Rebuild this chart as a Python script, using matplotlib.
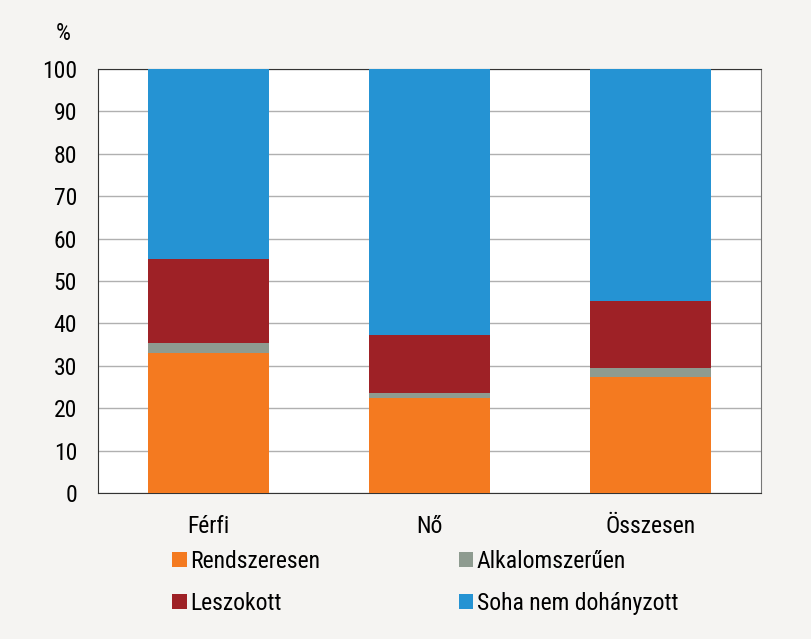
import numpy as np
import matplotlib.pyplot as plt
from matplotlib import font_manager

# keskeny betűtípus, ha van
names = set(f.name for f in font_manager.fontManager.ttflist)
narrow = None
for cand in ['Liberation Sans Narrow', 'Arial Narrow', 'Roboto Condensed', 'Open Sans Condensed']:
    if cand in names:
        narrow = cand
        break
if narrow:
    plt.rcParams['font.family'] = [narrow, 'DejaVu Sans']
    fs = 17
else:
    plt.rcParams['font.family'] = ['Liberation Sans', 'DejaVu Sans']
    fs = 14.5

categories = ['Férfi', 'Nő', 'Összesen']
rendszeresen = [33.0, 22.3, 27.4]
alkalomszeruen = [2.3, 1.3, 2.0]
leszokott = [20.0, 13.7, 16.0]
soha = [44.7, 62.7, 54.6]

series = [('Rendszeresen', rendszeresen, '#f47a20'),
          ('Alkalomszerűen', alkalomszeruen, '#8e9b90'),
          ('Leszokott', leszokott, '#9e2126'),
          ('Soha nem dohányzott', soha, '#2593d3')]

fig = plt.figure(figsize=(8.12, 6.39), dpi=100)
fig.patch.set_facecolor('#f5f4f2')

ax = fig.add_axes([0.1207, 0.2285, 0.8163, 0.6635])
ax.set_facecolor('white')
x = np.arange(len(categories))
bottom = np.zeros(len(categories))
for name, vals, col in series:
    ax.bar(x, vals, 0.55, bottom=bottom, color=col, label=name, zorder=3)
    bottom += np.array(vals)

ax.set_xlim(-0.5, 2.5)
ax.set_ylim(0, 100)
ax.set_yticks(range(0, 101, 10))
ax.yaxis.grid(True, color='#b0b0b0', linewidth=1, zorder=0)
ax.set_xticks(x)
ax.set_xticklabels(categories, fontsize=fs)
ax.tick_params(axis='y', labelsize=fs, length=0, pad=15)
ax.tick_params(axis='x', length=0, pad=16)
for s in ['left', 'bottom', 'top', 'right']:
    ax.spines[s].set_color('#333333')
ax.spines['right'].set_color('#777777')
ax.text(-0.042, 1.068, '%', transform=ax.transAxes, fontsize=fs, ha='right', va='baseline')

handles, labels = ax.get_legend_handles_labels()
order = [0, 2, 1, 3]
fig.legend([handles[i] for i in order], [labels[i] for i in order], ncol=2,
           loc='upper left', bbox_to_anchor=(172 / 812, 1 - 550 / 639), frameon=False, fontsize=fs,
           borderpad=0, borderaxespad=0,
           handlelength=0.63, handleheight=0.63, handletextpad=0.15, columnspacing=5.85,
           labelspacing=0.8)

plt.savefig('out.png', dpi=100, facecolor=fig.get_facecolor())
